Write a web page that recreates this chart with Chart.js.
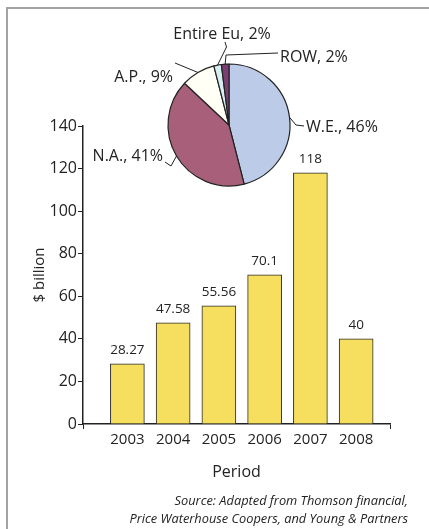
<!DOCTYPE html>
<html>
<head>
<meta charset="utf-8">
<script src="https://cdn.jsdelivr.net/npm/chart.js@4.4.0/dist/chart.umd.min.js"></script>
<style>
  body { margin: 0; background: #fff; }
  #contenedor { position: relative; width: 429px; height: 529px; overflow: hidden; }
  #marco { position: absolute; left: 6px; top: 7px; width: 440px; height: 540px; border-top: 2px solid #a3a3a3; border-left: 2px solid #a3a3a3; }
  canvas { position: absolute; left: 0; top: 0; }
</style>
</head>
<body>
<div id="contenedor">
  <div id="marco"></div>
  <canvas id="barras" width="429" height="529"></canvas>
  <canvas id="torta" width="429" height="210"></canvas>
</div>
<script>
// datos del grafico de barras
var anios = [2003, 2004, 2005, 2006, 2007, 2008];
var valores = [28.27, 47.58, 55.56, 70.1, 118, 40];
var ticksY = [0, 20, 40, 60, 80, 100, 120, 140];

// datos de la torta
var regiones = ['W.E.', 'N.A.', 'A.P.', 'Entire Eu', 'ROW'];
var porcentajes = [46, 41, 9, 2, 2];
var coloresRegion = ['#bccbe8', '#a8607a', '#fffff5', '#d6eef2', '#7a3e73'];

var fuente = "'Open Sans', sans-serif";
var colorTexto = '#232323';

var etiquetasBarras = {
    id: 'etiquetasBarras',
    afterDatasetsDraw: function (chart) {
        var c = chart.ctx;
        var meta = chart.getDatasetMeta(0);
        c.save();
        c.font = '13.5px ' + fuente;
        c.fillStyle = colorTexto;
        c.textAlign = 'center';
        c.textBaseline = 'alphabetic';
        meta.data.forEach(function (barra, i) {
            c.fillText(String(valores[i]), barra.x, barra.y - 10);
        });
        c.restore();
    },
    afterDraw: function (chart) {
        // nota de la fuente
        var c = chart.ctx;
        c.save();
        c.font = 'italic 12.8px ' + fuente;
        c.fillStyle = colorTexto;
        c.textAlign = 'right';
        c.fillText('Source: Adapted from Thomson financial,', 408, 505);
        c.fillText('Price Waterhouse Coopers, and Young & Partners', 408, 523);
        c.restore();
    }
};

var graficoBarras = new Chart(document.getElementById('barras'), {
    type: 'bar',
    data: {
        datasets: [{
            data: anios.map(function (a, i) { return { x: a, y: valores[i] }; }),
            backgroundColor: '#f6de5e',
            borderColor: '#2b2b2b',
            borderWidth: 1,
            barThickness: 34
        }]
    },
    options: {
        responsive: false,
        animation: false,
        layout: { padding: { top: 126, right: 39, left: 0, bottom: 0 } },
        plugins: { legend: { display: false }, tooltip: { enabled: false } },
        scales: {
            x: {
                type: 'linear',
                min: 2002.03,
                max: 2008.74,
                offset: false,
                afterBuildTicks: function (s) {
                    s.ticks = [s.min].concat(anios, [s.max]).map(function (v) { return { value: v }; });
                },
                afterFit: function (s) { s.height = 105; },
                ticks: {
                    autoSkip: false, maxRotation: 0, padding: 2, color: colorTexto,
                    font: { family: fuente, size: 15 },
                    callback: function (v) { return anios.indexOf(v) >= 0 ? String(v) : ''; }
                },
                grid: {
                    offset: false, drawOnChartArea: false, tickLength: 5,
                    color: function (c) { return (c.tick && anios.indexOf(c.tick.value) >= 0) ? 'rgba(0,0,0,0)' : '#222'; }
                },
                border: { color: '#222', width: 1.5 },
                title: { display: true, text: 'Period', color: colorTexto, font: { family: fuente, size: 16 }, padding: { top: 0, bottom: 47 } }
            },
            y: {
                min: 0,
                max: 140,
                afterBuildTicks: function (s) {
                    s.ticks = ticksY.map(function (v) { return { value: v }; });
                },
                afterFit: function (s) { s.width = 83; },
                ticks: { padding: 1, color: colorTexto, font: { family: fuente, size: 16 } },
                grid: { drawOnChartArea: false, tickLength: 5, color: '#222' },
                border: { color: '#222', width: 1.5 },
                title: { display: true, text: '$ billion', color: colorTexto, font: { family: fuente, size: 15 }, padding: { top: 31, bottom: 0 } }
            }
        }
    },
    plugins: [etiquetasBarras]
});

// posiciones de las etiquetas de la torta y sus lineas guia
var guiasTorta = [
    { tx: 306, ty: 127, align: 'left', puntos: [[296, 125], [304, 126]] },
    { tx: 163, ty: 156, align: 'right', puntos: [[171, 166], [165, 162]] },
    { tx: 173, ty: 77, align: 'right', puntos: [[175, 63]] },
    { tx: 222, ty: 34, align: 'center', puntos: [[226.5, 47], [225, 42]] },
    { tx: 280, ty: 57, align: 'left', puntos: [[226, 55], [278, 53]] }
];

var etiquetasTorta = {
    id: 'etiquetasTorta',
    afterDatasetsDraw: function (chart) {
        var c = chart.ctx;
        var meta = chart.getDatasetMeta(0);
        c.save();
        c.strokeStyle = '#222';
        c.lineWidth = 1;
        c.font = '16px ' + fuente;
        c.fillStyle = colorTexto;
        c.textBaseline = 'middle';
        meta.data.forEach(function (arco, i) {
            var g = guiasTorta[i];
            var medio = (arco.startAngle + arco.endAngle) / 2;
            c.beginPath();
            c.moveTo(arco.x + Math.cos(medio) * arco.outerRadius, arco.y + Math.sin(medio) * arco.outerRadius);
            g.puntos.forEach(function (p) { c.lineTo(p[0], p[1]); });
            c.stroke();
            c.textAlign = g.align;
            c.fillText(regiones[i] + ', ' + porcentajes[i] + '%', g.tx, g.ty);
        });
        c.restore();
    }
};

var graficoTorta = new Chart(document.getElementById('torta'), {
    type: 'pie',
    data: {
        labels: regiones,
        datasets: [{
            data: porcentajes,
            backgroundColor: coloresRegion,
            borderColor: '#222',
            borderWidth: 1.2
        }]
    },
    options: {
        responsive: false,
        animation: false,
        radius: 61,
        layout: { padding: { left: 167, top: 63, right: 138, bottom: 23 } },
        plugins: { legend: { display: false }, tooltip: { enabled: false } }
    },
    plugins: [etiquetasTorta]
});
</script>
</body>
</html>
